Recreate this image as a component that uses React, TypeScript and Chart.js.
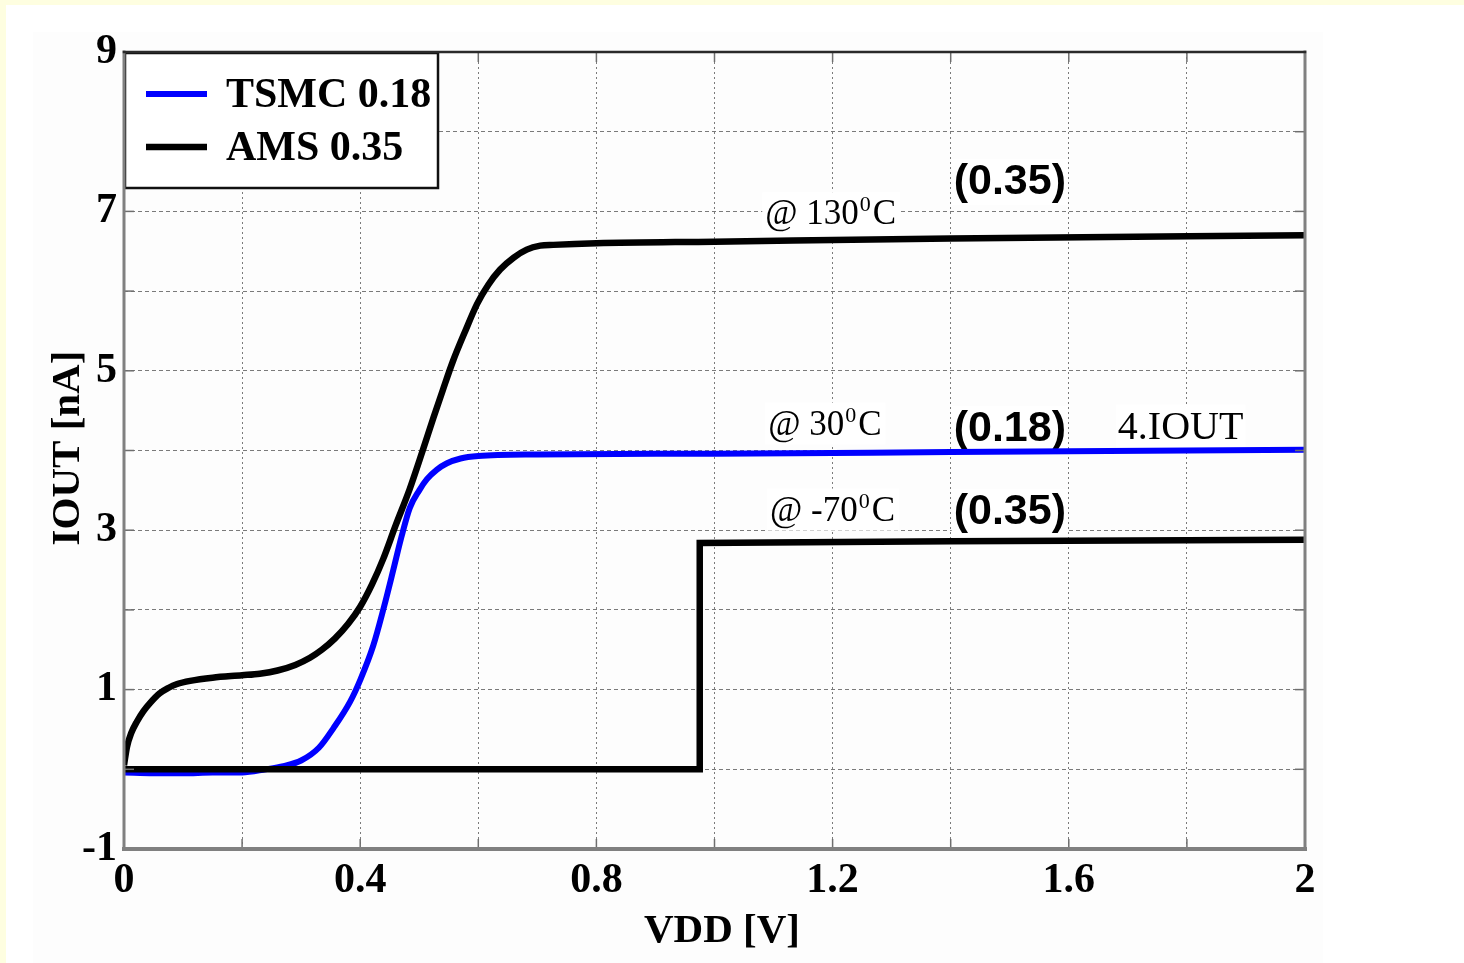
import React, { useEffect, useRef } from 'react';
import { Chart, registerables } from 'chart.js';

Chart.register(...registerables);

const W = 1464;
const H = 963;

// TSMC 0.18 @ 30°C (4·IOUT)
const tsmcVdd = [0, 0.05, 0.1, 0.15, 0.2, 0.24, 0.27, 0.3, 0.33, 0.355, 0.383, 0.4, 0.422, 0.44, 0.456, 0.47, 0.484, 0.5, 0.513, 0.53, 0.547, 0.57, 0.6, 0.7, 1.0, 1.4, 2.0];
const tsmcIout = [-0.04, -0.05, -0.05, -0.04, -0.04, 0.0, 0.04, 0.11, 0.27, 0.52, 0.85, 1.12, 1.55, 2.03, 2.5, 2.92, 3.28, 3.5, 3.64, 3.76, 3.84, 3.9, 3.93, 3.95, 3.96, 3.98, 4.01];

// AMS 0.35 @ 130°C
const ams130Vdd = [0, 0.005, 0.012, 0.022, 0.033, 0.044, 0.06, 0.075, 0.09, 0.112, 0.15, 0.2, 0.23, 0.26, 0.29, 0.315, 0.335, 0.357, 0.38, 0.4, 0.42, 0.439, 0.46, 0.484, 0.505, 0.524, 0.54, 0.557, 0.578, 0.598, 0.617, 0.637, 0.66, 0.682, 0.705, 0.727, 0.8, 1.0, 1.4, 2.0];
const ams130Iout = [0.05, 0.28, 0.45, 0.6, 0.73, 0.83, 0.95, 1.02, 1.07, 1.11, 1.15, 1.18, 1.2, 1.24, 1.31, 1.4, 1.5, 1.64, 1.83, 2.04, 2.32, 2.64, 3.06, 3.52, 3.98, 4.41, 4.76, 5.12, 5.5, 5.84, 6.08, 6.27, 6.42, 6.52, 6.57, 6.58, 6.6, 6.62, 6.66, 6.7];

// AMS 0.35 @ -70°C
const ams70Vdd = [0, 0.975, 0.975, 1.4, 2.0];
const ams70Iout = [0, 0, 2.84, 2.86, 2.88];

const xGrid = [0, 0.2, 0.4, 0.6, 0.8, 1.0, 1.2, 1.4, 1.6, 1.8, 2.0];
const xTickLabels = ['0', '', '0.4', '', '0.8', '', '1.2', '', '1.6', '', '2'];
const yGrid = [-1, 0, 1, 2, 3, 4, 5, 6, 7, 8, 9];
const yTickLabels = ['-1', '', '1', '', '3', '', '5', '', '7', '', '9'];

const xTitle = 'VDD [V]';
const yTitle = 'IOUT [nA]';
const legendLabels = ['TSMC 0.18', 'AMS 0.35'];

// annotation texts with anchor (data units: left x, baseline y)
const annoTexts = ['@ 130', '@ 30', '@ -70'];
const annoSup = ['0', '0', '0'];
const annoTail = ['C', 'C', 'C'];
const annoX = [1.086, 1.091, 1.094];
const annoY = [6.84, 4.2, 3.12];
const tagTexts = ['(0.35)', '(0.18)', '(0.35)', '4.IOUT'];
const tagX = [1.405, 1.405, 1.405, 1.683];
const tagY = [7.22, 4.12, 3.08, 4.14];

const SERIF = '"Liberation Serif", "Times New Roman", serif';
const SANS = '"Liberation Sans", Arial, sans-serif';

const decorPlugin = {
  id: 'decor',
  beforeDraw(chart: any) {
    const ctx = chart.ctx;
    ctx.save();
    ctx.fillStyle = '#fefee0';
    ctx.fillRect(0, 0, W, H);
    ctx.fillStyle = '#ffffff';
    ctx.fillRect(6, 5, W - 6, H - 5);
    ctx.fillStyle = '#fdfdfd';
    ctx.fillRect(33, 32, 1290, H - 32);
    ctx.restore();
  },
  beforeDatasetsDraw(chart: any) {
    const ctx = chart.ctx;
    const xs = chart.scales.x;
    const ys = chart.scales.y;
    ctx.save();
    ctx.textBaseline = 'alphabetic';
    ctx.textAlign = 'left';
    for (let i = 0; i < annoTexts.length; i++) {
      const px = xs.getPixelForValue(annoX[i]);
      const py = ys.getPixelForValue(annoY[i]);
      ctx.font = `35px ${SERIF}`;
      const w1 = ctx.measureText(annoTexts[i]).width;
      ctx.font = `22px ${SERIF}`;
      const w2 = ctx.measureText(annoSup[i]).width;
      ctx.font = `35px ${SERIF}`;
      const w3 = ctx.measureText(annoTail[i]).width;
      const total = w1 + 2 + w2 + 2 + w3;
      ctx.fillStyle = '#ffffff';
      ctx.fillRect(px - 3, py - 32, total + 6, 42);
      ctx.fillStyle = '#000000';
      ctx.font = `35px ${SERIF}`;
      ctx.fillText(annoTexts[i], px, py);
      ctx.font = `22px ${SERIF}`;
      ctx.fillText(annoSup[i], px + w1 + 1, py - 13);
      ctx.font = `35px ${SERIF}`;
      ctx.fillText(annoTail[i], px + w1 + 3 + w2, py);
    }
    for (let i = 0; i < tagTexts.length; i++) {
      const px = xs.getPixelForValue(tagX[i]);
      const py = ys.getPixelForValue(tagY[i]);
      const isSans = tagTexts[i].startsWith('(');
      ctx.font = isSans ? `bold 43px ${SANS}` : `40px ${SERIF}`;
      const w = ctx.measureText(tagTexts[i]).width;
      ctx.fillStyle = '#ffffff';
      ctx.fillRect(px - 2, py - 35, w + 4, 46);
      ctx.fillStyle = '#000000';
      ctx.fillText(tagTexts[i], px, py);
    }
    ctx.restore();
  },
  afterDatasetsDraw(chart: any) {
    const ctx = chart.ctx;
    const a = chart.chartArea;
    const xs = chart.scales.x;
    const ys = chart.scales.y;
    ctx.save();

    // legend box
    const lx = a.left, ly = a.top, lw = 314, lh = 136;
    ctx.fillStyle = '#ffffff';
    ctx.fillRect(lx, ly, lw, lh);
    ctx.strokeStyle = '#111111';
    ctx.lineWidth = 2.5;
    ctx.strokeRect(lx + 1, ly + 1, lw - 1, lh - 1);
    const ds = chart.data.datasets;
    const rows = [ly + 42, ly + 95];
    for (let i = 0; i < legendLabels.length; i++) {
      ctx.strokeStyle = ds[i].borderColor;
      ctx.lineWidth = ds[i].borderWidth;
      ctx.lineCap = 'butt';
      ctx.beginPath();
      ctx.moveTo(lx + 22, rows[i]);
      ctx.lineTo(lx + 83, rows[i]);
      ctx.stroke();
      ctx.fillStyle = '#000000';
      ctx.font = `bold 42px ${SERIF}`;
      ctx.textBaseline = 'middle';
      ctx.textAlign = 'left';
      ctx.fillText(legendLabels[i], lx + 102, rows[i] + 2);
    }

    // inner tick marks
    ctx.strokeStyle = '#6e6e6e';
    ctx.lineWidth = 1.5;
    const tl = 10;
    for (const v of xGrid) {
      const px = xs.getPixelForValue(v);
      ctx.beginPath();
      ctx.moveTo(px, a.bottom);
      ctx.lineTo(px, a.bottom - tl);
      ctx.stroke();
      if (px > lx + lw) {
        ctx.beginPath();
        ctx.moveTo(px, a.top);
        ctx.lineTo(px, a.top + tl);
        ctx.stroke();
      }
    }
    for (const v of yGrid) {
      const py = ys.getPixelForValue(v);
      ctx.beginPath();
      ctx.moveTo(a.right, py);
      ctx.lineTo(a.right - tl, py);
      ctx.stroke();
      if (py > ly + lh) {
        ctx.beginPath();
        ctx.moveTo(a.left, py);
        ctx.lineTo(a.left + tl, py);
        ctx.stroke();
      }
    }

    // spines
    ctx.lineCap = 'square';
    ctx.strokeStyle = '#808080';
    ctx.lineWidth = 3;
    ctx.beginPath();
    ctx.moveTo(a.left, a.top);
    ctx.lineTo(a.left, a.bottom);
    ctx.stroke();
    ctx.beginPath();
    ctx.moveTo(a.right, a.top);
    ctx.lineTo(a.right, a.bottom);
    ctx.stroke();
    ctx.lineWidth = 4;
    ctx.beginPath();
    ctx.moveTo(a.left, a.bottom);
    ctx.lineTo(a.right, a.bottom);
    ctx.stroke();
    ctx.strokeStyle = '#2a2a2a';
    ctx.lineWidth = 2.5;
    ctx.beginPath();
    ctx.moveTo(a.left, a.top);
    ctx.lineTo(a.right, a.top);
    ctx.stroke();

    // axis titles
    ctx.fillStyle = '#000000';
    ctx.font = `bold 41px ${SERIF}`;
    ctx.textAlign = 'center';
    ctx.textBaseline = 'middle';
    ctx.fillText(xTitle, 722, 931);
    ctx.translate(68, 448);
    ctx.rotate(-Math.PI / 2);
    ctx.fillText(yTitle, 0, 0);
    ctx.restore();
  },
};

export default function App() {
  const ref = useRef<HTMLCanvasElement | null>(null);

  useEffect(() => {
    if (!ref.current) return;
    const tickFont = { family: SERIF, size: 42, weight: 'bold' as const };
    const chart = new Chart(ref.current, {
      type: 'line',
      data: {
        datasets: [
          {
            label: legendLabels[0],
            data: tsmcVdd.map((x, i) => ({ x, y: tsmcIout[i] })),
            borderColor: '#0000ff',
            borderWidth: 6,
            pointRadius: 0,
            cubicInterpolationMode: 'monotone',
            fill: false,
            order: 2,
          },
          {
            label: legendLabels[1],
            data: ams130Vdd.map((x, i) => ({ x, y: ams130Iout[i] })),
            borderColor: '#000000',
            borderWidth: 6.5,
            pointRadius: 0,
            cubicInterpolationMode: 'monotone',
            fill: false,
            order: 1,
          },
          {
            label: legendLabels[1] + ' (-70)',
            data: ams70Vdd.map((x, i) => ({ x, y: ams70Iout[i] })),
            borderColor: '#000000',
            borderWidth: 6.5,
            pointRadius: 0,
            tension: 0,
            fill: false,
            order: 0,
          },
        ],
      },
      options: {
        responsive: false,
        animation: false,
        events: [],
        layout: { padding: { left: 0, top: 52, right: W - 1305, bottom: 0 } },
        plugins: { legend: { display: false }, tooltip: { enabled: false } },
        scales: {
          x: {
            type: 'linear',
            min: 0,
            max: 2,
            afterBuildTicks: (s: any) => {
              s.ticks = xGrid.map((v) => ({ value: v }));
            },
            afterFit: (s: any) => {
              s.height = H - 849;
            },
            grid: { color: '#7a7a7a', lineWidth: 1, drawTicks: false },
            border: { display: false, dash: [2, 3] },
            ticks: {
              autoSkip: false,
              maxRotation: 0,
              padding: 7,
              color: '#000000',
              font: tickFont,
              callback: (_v: any, i: number) => xTickLabels[i],
            },
          },
          y: {
            type: 'linear',
            min: -1,
            max: 9,
            afterBuildTicks: (s: any) => {
              s.ticks = yGrid.map((v) => ({ value: v }));
            },
            afterFit: (s: any) => {
              s.width = 124;
            },
            grid: { color: '#7a7a7a', lineWidth: 1, drawTicks: false },
            border: { display: false, dash: [4, 3] },
            ticks: {
              autoSkip: false,
              padding: 7,
              color: '#000000',
              font: tickFont,
              callback: (_v: any, i: number) => yTickLabels[i],
            },
          },
        },
      },
      plugins: [decorPlugin],
    } as any);
    return () => chart.destroy();
  }, []);

  return (
    <div style={{ position: 'absolute', left: 0, top: 0, width: W, height: H }}>
      <canvas ref={ref} width={W} height={H} style={{ display: 'block' }} />
    </div>
  );
}
